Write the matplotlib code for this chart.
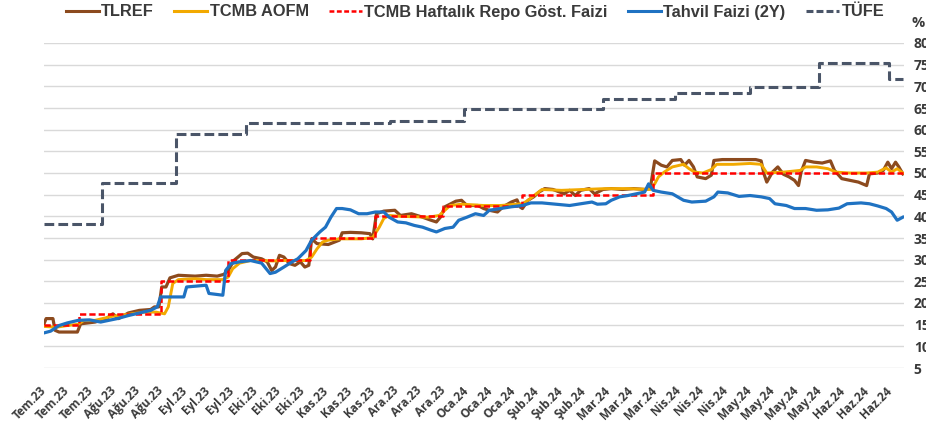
import matplotlib
matplotlib.use("Agg")
import matplotlib.pyplot as plt
from matplotlib.lines import Line2D

plt.rcParams["lines.scale_dashes"] = False

# x values are days counted from 10 Jul 2023
x_end = 365.5

# Annual CPI (TÜFE), changes on release days
tufe_days = [0, 24.6, 56.0, 86.0, 147.4, 178.8, 237.9, 268.6, 300.5, 330.0, 359.6]
tufe_vals = [38.2, 47.8, 58.9, 61.5, 62.0, 64.8, 67.1, 68.5, 69.8, 75.5, 71.6]

# CBRT one-week repo policy rate
repo_days = [0, 15.1, 49.6, 78.4, 113.2, 141.0, 169.9, 203.6, 259.2]
repo_vals = [15.0, 17.5, 25.0, 30.0, 35.0, 40.0, 42.5, 45.0, 50.0]

# TLREF
tlref_days = [0, 0.9, 3.8, 4.7, 6.4, 14.2, 15.6, 21.7, 26.5, 29.3, 31.7, 35.9, 40.6,
              45.4, 47.0, 48.9, 50.1, 51.9, 53.6, 57.2, 64.3, 69.0, 73.7, 76.5, 78.4,
              80.8, 84.3, 86.7, 89.1, 92.6, 95.0, 96.9, 98.5, 100.2, 102.1, 104.4,
              106.8, 109.1, 111.0, 112.7, 113.9, 116.2, 121.0, 125.7, 126.9, 130.4,
              135.1, 138.7, 139.9, 141.5, 144.6, 149.3, 151.7, 156.4, 161.1, 164.7,
              167.0, 168.7, 170.6, 175.3, 177.7, 180.0, 184.7, 187.1, 189.5, 193.0,
              195.4, 198.9, 201.3, 202.5, 203.6, 206.0, 208.4, 210.7, 213.1, 216.6,
              221.4, 223.7, 226.1, 228.4, 232.0, 234.3, 237.9, 241.4, 246.2, 250.9,
              255.6, 258.0, 259.9, 262.7, 265.1, 267.4, 271.0, 272.6, 274.5, 276.4,
              278.0, 281.6, 284.0, 285.1, 288.7, 295.8, 302.9, 305.2, 306.4, 307.6,
              310.0, 312.3, 314.7, 317.1, 319.4, 321.1, 322.2, 324.1, 327.7, 331.2,
              334.7, 336.4, 339.5, 343.0, 346.6, 350.1, 351.3, 354.8, 357.2, 359.1,
              360.7, 362.4, 363.8, 365.5]
tlref_vals = [15.2, 16.4, 16.4, 13.7, 13.3, 13.3, 15.2, 15.6, 16.4, 17.5, 16.4, 17.7, 18.3,
              18.5, 19.1, 19.1, 23.7, 23.7, 25.8, 26.4, 26.2, 26.4, 26.2, 26.6, 27.5,
              29.8, 31.4, 31.5, 30.6, 30.2, 29.5, 27.5, 28.3, 31.0, 30.6, 29.1,
              28.7, 29.5, 28.3, 28.7, 34.8, 33.7, 33.5, 34.5, 36.2, 36.3,
              36.2, 36.0, 34.8, 40.6, 41.2, 41.4, 40.2, 40.6, 39.8, 39.1,
              38.7, 39.8, 42.2, 43.5, 43.7, 42.5, 42.5, 41.8, 41.4, 41.0,
              42.2, 43.3, 43.8, 42.2, 41.8, 43.7, 44.5, 45.6, 46.4, 46.2,
              45.2, 46.0, 44.8, 46.0, 46.4, 45.2, 46.2, 46.4, 46.2, 46.4,
              46.2, 46.4, 52.8, 51.8, 51.4, 52.9, 53.1, 51.8, 52.9, 51.4,
              49.1, 48.7, 49.5, 52.9, 53.1, 53.1, 53.1, 52.8, 49.8, 47.9,
              50.2, 51.4, 49.7, 49.1, 48.3, 47.1, 50.2, 52.9, 52.5, 52.3,
              52.8, 50.6, 48.7, 48.3, 47.9, 47.1, 49.8, 50.0, 50.6, 52.5,
              51.0, 52.5, 51.4, 49.8]

# CBRT weighted average cost of funding (AOFM)
aofm_days = [0, 5.2, 9.9, 14.6, 17.0, 21.7, 28.8, 35.9, 43.0, 47.7, 51.3, 52.9, 54.8,
             57.2, 64.3, 69.0, 76.1, 78.4, 80.3, 83.2, 87.9, 92.6, 97.3, 102.1, 106.8,
             111.5, 113.9, 116.2, 118.6, 121.0, 125.7, 135.1, 139.9, 142.7, 144.6,
             146.9, 151.7, 163.5, 168.2, 170.6, 172.9, 177.7, 187.1, 194.2, 201.3,
             203.6, 206.0, 209.5, 211.9, 220.2, 229.6, 239.1, 248.5, 258.0, 259.9,
             261.5, 263.9, 267.4, 272.2, 274.5, 276.9, 280.4, 284.0, 286.3, 293.4,
             300.5, 305.2, 307.6, 314.7, 321.8, 324.1, 328.8, 333.6, 337.1, 343.0,
             350.1, 354.8, 358.4, 360.7, 363.1, 365.5]
aofm_vals = [14.6, 14.4, 14.8, 15.1, 16.0, 16.0, 16.9, 17.4, 17.9, 17.9, 17.5, 19.1, 24.5,
             25.4, 25.6, 25.4, 25.4, 26.0, 27.9, 29.2, 29.8, 29.8, 29.7, 29.8, 29.8,
             29.8, 30.6, 32.5, 34.1, 34.5, 34.8, 34.8, 35.1, 37.5, 39.5,
             40.2, 40.0, 39.8, 40.2, 41.4, 42.5, 42.8, 42.5, 42.5, 42.8,
             42.9, 43.7, 45.2, 46.2, 46.0, 46.2, 46.4, 46.4, 46.2, 47.5,
             49.1, 50.2, 51.4, 52.0, 51.0, 50.2, 50.0, 50.8, 52.0, 52.0,
             52.2, 52.0, 50.0, 50.2, 50.6, 51.4, 51.4, 51.0, 50.2, 50.0,
             50.0, 50.2, 51.2, 50.2, 51.0, 50.0]

# 2-year government bond yield
bond_days = [0, 2.8, 6.4, 9.9, 14.6, 19.4, 24.1, 27.6, 31.2, 35.9, 40.6, 45.4, 48.2,
             49.6, 59.5, 60.7, 69.0, 70.2, 76.1, 77.3, 79.6, 83.2, 87.9, 92.6, 96.2,
             98.5, 102.1, 105.6, 108.0, 111.5, 113.9, 117.4, 119.8, 122.1, 124.5,
             126.9, 130.4, 133.9, 137.5, 141.0, 144.6, 146.9, 150.5, 154.0, 157.6,
             161.1, 164.7, 167.0, 170.6, 174.1, 176.5, 180.0, 183.6, 187.1, 189.5,
             194.2, 198.9, 203.6, 207.2, 211.9, 217.8, 223.7, 228.4, 233.2, 235.5,
             239.1, 241.4, 245.0, 248.5, 252.1, 255.6, 257.3, 259.2, 262.7, 267.4,
             272.2, 275.7, 281.6, 285.1, 286.8, 291.0, 295.8, 300.5, 305.2, 308.8,
             311.1, 315.9, 319.4, 324.1, 328.8, 333.6, 338.3, 341.8, 347.7, 351.3,
             354.8, 358.4, 360.7, 363.1, 365.5]
bond_vals = [13.1, 13.5, 14.8, 15.4, 16.0, 16.1, 15.6, 16.0, 16.4, 17.1, 17.7, 18.3, 19.1,
             21.4, 21.4, 23.7, 24.1, 22.2, 21.8, 27.5, 29.1, 29.5, 29.8, 29.2, 26.8,
             27.1, 28.3, 29.5, 30.2, 32.1, 34.5, 36.4, 37.5, 39.8, 41.8,
             41.8, 41.5, 40.6, 40.6, 41.0, 41.0, 39.8, 38.7, 38.5, 37.9,
             37.5, 36.8, 36.4, 37.2, 37.5, 39.1, 39.8, 40.6, 40.2, 41.4,
             41.8, 42.2, 42.5, 43.1, 43.1, 42.8, 42.5, 42.9, 43.3, 42.8,
             42.9, 43.7, 44.5, 44.8, 45.2, 45.6, 47.5, 46.0, 45.6, 45.2,
             43.7, 43.3, 43.5, 44.5, 45.6, 45.4, 44.6, 44.8, 44.5, 44.1,
             42.9, 42.5, 41.8, 41.8, 41.4, 41.5, 41.9, 42.9, 43.1, 42.9,
             42.4, 41.8, 41.0, 39.1, 39.8]

tick_labels = (["Tem.23"] * 3 + ["Ağu.23"] * 3 + ["Eyl.23"] * 3 + ["Eki.23"] * 3 +
               ["Kas.23"] * 3 + ["Ara.23"] * 3 + ["Oca.24"] * 3 + ["Şub.24"] * 3 +
               ["Mar.24"] * 3 + ["Nis.24"] * 3 + ["May.24"] * 4 + ["Haz.24"] * 3)
tick_step = 10.0

series_names = ["TLREF", "TCMB AOFM", "TCMB Haftalık Repo Göst. Faizi",
                "Tahvil Faizi (2Y)", "TÜFE"]

c_tlref = "#8C4A1E"
c_aofm = "#F2A900"
c_repo = "#FF0000"
c_bond = "#1F72C2"
c_tufe = "#4A5568"
txt = "#3a3a3a"

fig = plt.figure(figsize=(9.26, 4.26), dpi=100)
ax = fig.add_axes([44 / 926, 1 - 368 / 426, 860 / 926, 325 / 426])

ax.plot(tlref_days, tlref_vals, color=c_tlref, lw=2.3, solid_joinstyle="round", zorder=3)
ax.plot(aofm_days, aofm_vals, color=c_aofm, lw=2.1, solid_joinstyle="round", zorder=4)
ax.plot(repo_days + [x_end], repo_vals + [repo_vals[-1]], color=c_repo, lw=1.8,
        drawstyle="steps-post", dashes=(4.5, 2.2), zorder=5)
ax.plot(bond_days, bond_vals, color=c_bond, lw=2.3, solid_joinstyle="round", zorder=6)
ax.plot(tufe_days + [x_end], tufe_vals + [tufe_vals[-1]], color=c_tufe, lw=2.2,
        drawstyle="steps-post", dashes=(7, 3), zorder=7)

ax.set_xlim(0, 366)
ax.set_ylim(5, 80)
ax.set_yticks(range(5, 85, 5))
ax.yaxis.tick_right()
ax.grid(axis="y", color="#d9d9d9", lw=1)
ax.set_axisbelow(True)
for s in ax.spines.values():
    s.set_visible(False)

ax.set_xticks([i * tick_step for i in range(len(tick_labels))])
ax.set_xticklabels(tick_labels, rotation=45, ha="right", va="center",
                   rotation_mode="anchor", fontsize=8.5, fontweight="bold",
                   color=txt, family="Open Sans")
ax.tick_params(axis="x", length=0, pad=15)
ax.tick_params(axis="y", length=0, pad=7, labelsize=10, labelcolor=txt)
for lab in ax.get_yticklabels():
    lab.set_fontweight("bold")
    lab.set_family("Open Sans")

fig.text(912 / 926, 1 - 23 / 426, "%", ha="left", va="center", fontsize=10.5,
         fontweight="bold", color=txt, family="Open Sans")

handles = [
    Line2D([], [], color=c_tlref, lw=2.2),
    Line2D([], [], color=c_aofm, lw=2.2),
    Line2D([], [], color=c_repo, lw=1.8, dashes=(3.5, 1.8)),
    Line2D([], [], color=c_bond, lw=2.2),
    Line2D([], [], color=c_tufe, lw=2.2, dashes=(5, 2.2)),
]
leg = fig.legend(handles, series_names, loc="center", bbox_to_anchor=(475 / 926, 1 - 12 / 426),
                 ncol=5, frameon=False, handlelength=2.0, handletextpad=0.15,
                 columnspacing=1.25, borderaxespad=0,
                 prop={"family": "Liberation Sans", "weight": "bold", "size": 11.8})
for t in leg.get_texts():
    t.set_color(txt)

fig.savefig("out.png", dpi=100)
